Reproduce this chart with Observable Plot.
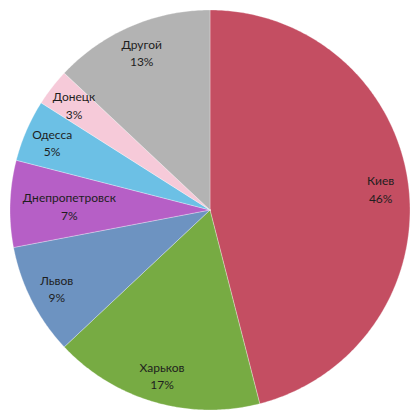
<!DOCTYPE html>
<html><head><meta charset="utf-8">
<script src="https://cdn.jsdelivr.net/npm/d3@7"></script>
<script src="https://cdn.jsdelivr.net/npm/@observablehq/plot@0.6"></script>
<style>body{margin:0;background:#fff}</style>
</head><body><div id="chart"></div>
<script>
const cities = ["Киев", "Харьков", "Львов", "Днепропетровск", "Одесса", "Донецк", "Другой"];
const shares = [46, 17, 9, 7, 5, 3, 13];
const colors = ["#c44e62", "#77ab43", "#6d93c1", "#b65fc6", "#6cc0e5", "#f6cad9", "#b3b3b3"];

const W = 420, H = 420, R = 200, CX = 209.5, CY = 209.5;
const total = d3.sum(shares);
const pie = d3.pie().sort(null).value(d => d)(shares);

// sector outlines in unit-circle coordinates (angle clockwise from top)
const pts = [];
pie.forEach((p, i) => {
  const n = Math.max(8, Math.ceil((p.endAngle - p.startAngle) / 0.01));
  pts.push({name: cities[i], x: 0, y: 0});
  for (let k = 0; k <= n; k++) {
    const a = p.startAngle + (p.endAngle - p.startAngle) * k / n;
    pts.push({name: cities[i], x: Math.sin(a), y: Math.cos(a)});
  }
  pts.push({name: cities[i], x: 0, y: 0});
});

// label positions: inside near edge, pulled in for wide labels
const charW = 6.2;
const labels = pie.map((p, i) => {
  const a = (p.startAngle + p.endAngle) / 2;
  const hw = cities[i].length * charW / 2;
  let d = 0.86 * R;
  const s = Math.abs(Math.sin(a));
  if (s > 0.01) d = Math.min(d, (R - hw - 16) / s);
  return {name: cities[i], text: `${cities[i]}\n${Math.round(shares[i] / total * 100)}%`,
          x: Math.sin(a) * d / R, y: Math.cos(a) * d / R};
});

const chart = Plot.plot({
  width: W, height: H,
  marginTop: 0, marginBottom: 0, marginLeft: 0, marginRight: 0,
  x: {domain: [-CX / R, (W - CX) / R], axis: null},
  y: {domain: [-(H - CY) / R, CY / R], axis: null},
  color: {domain: cities, range: colors},
  style: {fontFamily: "Lato, 'Open Sans', sans-serif", background: "#fff"},
  marks: [
    Plot.line(pts, {x: "x", y: "y", z: "name", fill: "name", stroke: "#fff", strokeWidth: 0.5, strokeOpacity: 0.6, curve: "linear-closed"}),
    Plot.text(labels, {x: "x", y: "y", text: "text", fill: "#1e1e1e", fontSize: 12, lineHeight: 1.45})
  ]
});
document.getElementById("chart").append(chart);
</script>
</body></html>
